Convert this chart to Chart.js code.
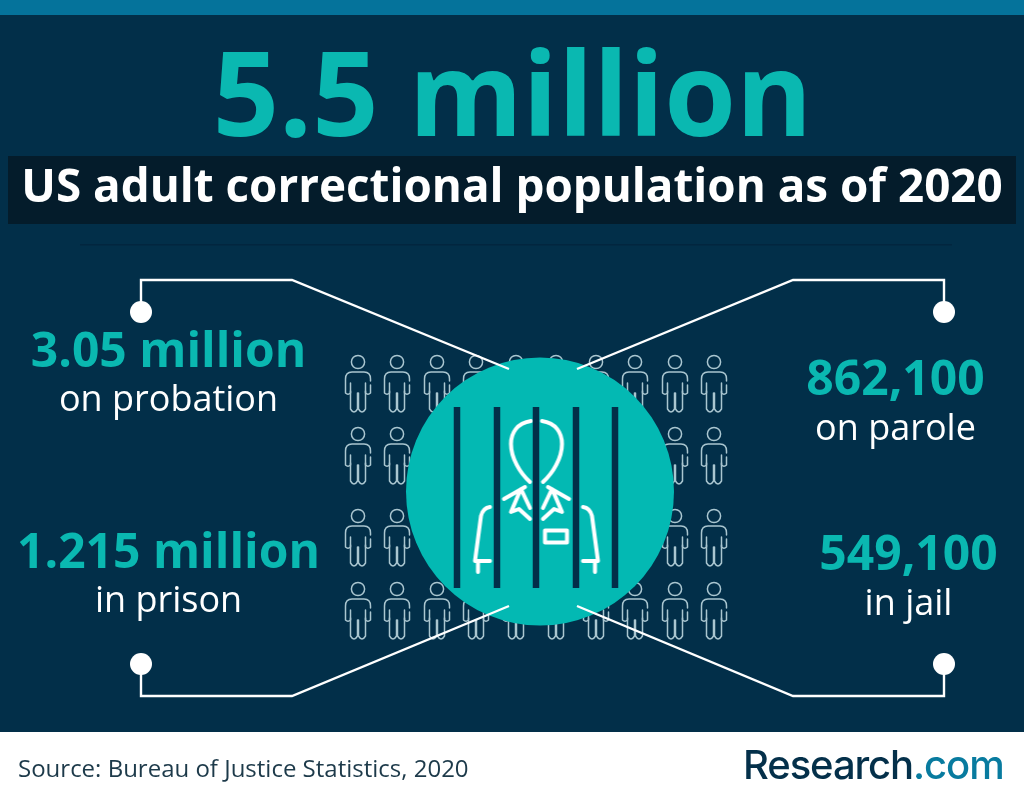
<!DOCTYPE html>
<html>
<head>
<meta charset="utf-8">
<title>US adult correctional population</title>
<script src="https://cdn.jsdelivr.net/npm/chart.js@4"></script>
<style>
  html, body { margin: 0; padding: 0; background: #fff; }
  canvas { display: block; }
</style>
</head>
<body>
<canvas id="chart" width="1024" height="803"></canvas>
<script>
// Values
const headline = "5.5 million";
const subtitle = "US adult correctional population as of 2020";
const groups = ["on probation", "on parole", "in prison", "in jail"];
const groupValues = [3050000, 862100, 1215000, 549100];
const groupValueLabels = ["3.05 million", "862,100", "1.215 million", "549,100"];
const sourceText = "Source: Bureau of Justice Statistics, 2020";
const brandName = "Research";
const brandSuffix = ".com";

// Layout, the two scales run in canvas units
const NAVY = "#022f49";
const TEAL = "#03b9b3";
const TEXT_TEAL = "#0ab8b1";
const calloutSpots = [
  { x: 168.5, valueY: 367, labelY: 411 },
  { x: 895.5, valueY: 395, labelY: 440 },
  { x: 168.5, valueY: 568, labelY: 612 },
  { x: 908.5, valueY: 570, labelY: 615 },
];
const connectorPaths = [
  [[141, 312], [141, 280], [292, 280], [509, 369]],
  [[944, 312], [944, 280], [793, 280], [577, 369]],
  [[141, 664], [141, 696], [292, 696], [509, 606]],
  [[944, 664], [944, 696], [793, 696], [577, 606]],
];
const crowdColumns = [358, 397, 437, 476, 516, 556, 596, 635, 675, 714];
const crowdRows = [384, 456, 538, 611];
const barColumns = [457, 497, 536, 576, 615];

function makePerson() {
  const c = document.createElement("canvas");
  c.width = 30;
  c.height = 62;
  const g = c.getContext("2d");
  g.strokeStyle = "#aac6d0";
  g.lineWidth = 1.5;
  g.lineCap = "round";
  g.lineJoin = "round";
  g.translate(15, 2);
  g.beginPath();
  g.arc(0, 7, 6.6, 0, Math.PI * 2);
  g.stroke();
  // shoulders and arms
  g.beginPath();
  g.moveTo(-7.5, 28);
  g.lineTo(-7.5, 38);
  g.quadraticCurveTo(-10, 40.5, -12.5, 38);
  g.lineTo(-12.5, 24);
  g.quadraticCurveTo(-12.5, 17, -6, 17);
  g.lineTo(6, 17);
  g.quadraticCurveTo(12.5, 17, 12.5, 24);
  g.lineTo(12.5, 26);
  g.moveTo(12.5, 30);
  g.lineTo(12.5, 38);
  g.quadraticCurveTo(10, 40.5, 7.5, 38);
  g.lineTo(7.5, 28);
  g.stroke();
  // legs
  g.beginPath();
  g.moveTo(-7.5, 36);
  g.lineTo(-7.5, 54);
  g.quadraticCurveTo(-4, 60, -0.5, 54);
  g.lineTo(-0.5, 38);
  g.moveTo(0.5, 38);
  g.lineTo(0.5, 54);
  g.quadraticCurveTo(4, 60, 7.5, 54);
  g.lineTo(7.5, 36);
  g.stroke();
  return c;
}

// Drawn half by half around the middle of the head
function makePrisoner() {
  const c = document.createElement("canvas");
  c.width = 140;
  c.height = 170;
  const g = c.getContext("2d");
  g.strokeStyle = "#ffffff";
  g.lineWidth = 4;
  g.lineCap = "round";
  g.lineJoin = "round";
  g.translate(70 - 536.5, 85 - 497);
  [1, -1].forEach((side) => {
    g.save();
    if (side < 0) {
      g.translate(2 * 536.5, 0);
      g.scale(-1, 1);
    }
    g.beginPath();
    g.moveTo(531, 421);
    g.bezierCurveTo(517, 423, 511, 433, 511, 444);
    g.bezierCurveTo(511, 458, 520, 473, 530, 482);
    g.moveTo(504, 499);
    g.lineTo(525, 487);
    g.moveTo(521, 489);
    g.lineTo(530, 508);
    g.moveTo(520, 491);
    g.lineTo(511, 512);
    g.lineTo(519, 509);
    g.lineTo(530, 519);
    g.stroke();
    g.beginPath();
    g.moveTo(490, 507);
    g.quadraticCurveTo(483, 508, 481, 516);
    g.lineTo(475, 561);
    g.lineTo(490, 561);
    g.moveTo(478, 563);
    g.lineTo(478, 572);
    g.stroke();
    g.restore();
  });
  g.strokeRect(545, 530.5, 22, 12);
  return c;
}

const crowdPoints = [];
crowdRows.forEach((y) => crowdColumns.forEach((x) => crowdPoints.push({ x, y })));

const datasets = [
  { data: crowdPoints, pointStyle: makePerson(), pointRadius: 10, order: 4 },
  {
    data: [{ x: 540, y: 491.5 }],
    pointRadius: 134,
    pointBackgroundColor: TEAL,
    pointBorderWidth: 0,
    order: 3,
  },
  { data: [{ x: 536.5, y: 497 }], pointStyle: makePrisoner(), pointRadius: 10, order: 2 },
];
barColumns.forEach((x) => {
  datasets.push({
    data: [{ x, y: 407 }, { x, y: 588 }],
    showLine: true,
    borderColor: NAVY,
    borderWidth: 6.5,
    pointRadius: 0,
    order: 1,
  });
});
connectorPaths.forEach((path) => {
  datasets.push({
    data: path.map(([x, y]) => ({ x, y })),
    showLine: true,
    borderColor: "#ffffff",
    borderWidth: 2.4,
    pointRadius: [11, 0, 0, 0],
    pointBackgroundColor: "#ffffff",
    pointBorderWidth: 0,
    order: 0,
  });
});

const backdrop = {
  id: "backdrop",
  beforeDraw(chart) {
    const { ctx } = chart;
    ctx.save();
    ctx.fillStyle = "#ffffff";
    ctx.fillRect(0, 0, 1024, 803);
    ctx.fillStyle = NAVY;
    ctx.fillRect(0, 15, 1024, 717);
    ctx.fillStyle = "#05739b";
    ctx.fillRect(0, 0, 1024, 15);
    ctx.fillStyle = "#041c2b";
    ctx.fillRect(8, 156, 1008, 68);
    ctx.fillStyle = "#02263f";
    ctx.fillRect(80, 244, 872, 1.5);
    ctx.restore();
  },
};

const textLayer = {
  id: "textLayer",
  afterDatasetsDraw(chart) {
    const { ctx, scales } = chart;
    const put = (text, x, y, font, color, align) => {
      ctx.font = font;
      ctx.fillStyle = color;
      ctx.textAlign = align || "center";
      ctx.fillText(text, scales.x.getPixelForValue(x), scales.y.getPixelForValue(y));
    };
    ctx.save();
    ctx.textBaseline = "alphabetic";
    put(headline, 512.5, 136, '700 116px "Open Sans"', TEXT_TEAL);
    put(subtitle, 512, 202, '700 45.8px "Open Sans"', "#ffffff");
    groups.forEach((label, i) => {
      const spot = calloutSpots[i];
      put(groupValueLabels[i], spot.x, spot.valueY, '700 48px "Open Sans"', TEXT_TEAL);
      put(label, spot.x, spot.labelY, '400 36px "Open Sans"', "#ffffff");
    });
    put(sourceText, 18, 777, '400 24px "Open Sans"', "#1d3a4a", "left");
    ctx.letterSpacing = "-1.1px";
    put(brandName, 743, 779, '500 40px "Inter"', "#04304a", "left");
    const brandWidth = ctx.measureText(brandName).width;
    put(brandSuffix, 743 + brandWidth, 779, '500 40px "Inter"', "#087b9f", "left");
    ctx.restore();
  },
};

new Chart(document.getElementById("chart").getContext("2d"), {
  type: "scatter",
  data: { datasets },
  plugins: [backdrop, textLayer],
  options: {
    responsive: false,
    devicePixelRatio: 1,
    animation: false,
    layout: { padding: 0, autoPadding: false },
    plugins: {
      legend: { display: false },
      tooltip: { enabled: false },
    },
    scales: {
      x: { type: "linear", min: 0, max: 1024, display: false },
      y: { type: "linear", min: 0, max: 803, reverse: true, display: false },
    },
  },
});
</script>
</body>
</html>
